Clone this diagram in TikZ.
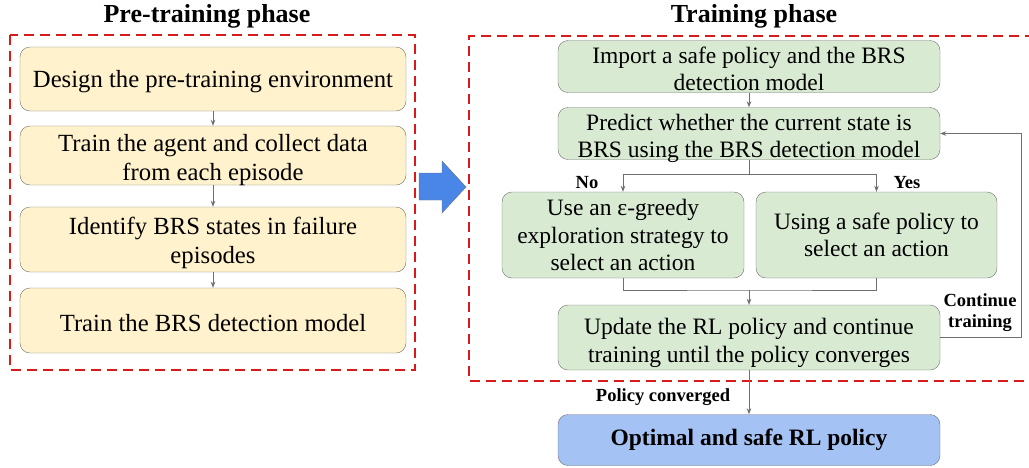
\documentclass[tikz,border=0pt]{standalone}
\usepackage{fontspec}
\setmainfont{Liberation Serif}
\usetikzlibrary{arrows.meta,positioning}
\definecolor{preyellow}{HTML}{FFF2CC}
\definecolor{traingreen}{HTML}{D9EAD3}
\definecolor{finalblue}{HTML}{A4C2F4}
\definecolor{arrowblue}{HTML}{4A86E8}
\definecolor{phasered}{HTML}{D91A1A}
\definecolor{linegray}{HTML}{6F6F6F}
% lowers the text of a box a little
\newcommand{\topstrut}[1]{\rule{0pt}{#1}}
\newcommand{\nodepth}[1]{\raisebox{0pt}[\height][0pt]{#1}}

\begin{document}
\begin{tikzpicture}[x=1pt,y=-1pt,
    prebox/.style={draw=linegray,fill=preyellow,rounded corners=10pt,align=center,
      inner sep=0pt,minimum width=386pt,font=\fontsize{24.7}{29}\selectfont},
    trainbox/.style={draw=linegray,fill=traingreen,rounded corners=10pt,align=center,
      inner sep=0pt,font=\fontsize{23.5}{27.5}\selectfont},
    phase/.style={draw=phasered,line width=2pt,dash pattern=on 10pt off 6pt},
    flow/.style={draw=linegray,line width=0.8pt,-{Stealth[length=6pt,width=4.5pt]}},
    tag/.style={font=\fontsize{18.5}{21}\selectfont\bfseries},
    title/.style={font=\fontsize{26}{30}\selectfont\bfseries}]
  \useasboundingbox (0,0) rectangle (1029,467);

  % pre-training phase
  \node[title] (pretitle) at (207,16) {Pre-training phase};
  \draw[phase] (10,35) rectangle (415,370);
  \node[prebox,minimum height=64pt] (design) at (213,79) {\topstrut{23pt}Design the pre-training environment};
  \node[prebox,minimum height=59pt] (collect) at (213,155.5) {\topstrut{21pt}Train the agent and collect data\\\nodepth{from each episode}};
  \node[prebox,minimum height=65pt] (identify) at (213,239.5) {\topstrut{25pt}Identify BRS states in failure\\episodes};
  \node[prebox,minimum height=65pt] (detect) at (213,320.5) {\topstrut{23pt}Train the BRS detection model};
  \draw[flow] (design) -- (collect);
  \draw[flow] (collect) -- (identify);
  \draw[flow] (identify) -- (detect);

  % big arrow between the phases
  \draw[linegray,fill=arrowblue] (419,173) -- (442,173) -- (442,161) -- (466,187)
    -- (442,213) -- (442,200) -- (419,200) -- cycle;

  % training phase
  \node[title] (traintitle) at (754,16) {Training phase};
  \draw[phase] (1035,36) -- (469,36) -- (469,381) -- (1035,381);
  \node[trainbox,minimum width=382pt,minimum height=52pt] (import) at (749,66.5) {\topstrut{21pt}Import a safe policy and the BRS\\detection model};
  \node[trainbox,minimum width=382pt,minimum height=52pt] (predict) at (749,133.5) {\topstrut{21pt}Predict whether the current state is\\\nodepth{BRS using the BRS detection model}};
  \node[trainbox,minimum width=242pt,minimum height=86pt] (explore) at (623,235) {Use an ε-greedy\\exploration strategy to\\select an action};
  \node[trainbox,minimum width=241pt,minimum height=86pt] (safe) at (876.5,235) {Using a safe policy to\\select an action};
  \node[trainbox,minimum width=382pt,minimum height=65pt] (update) at (749,337.5) {\topstrut{27pt}Update the RL policy and continue\\training until the policy converges};
  \node[draw=linegray,fill=finalblue,rounded corners=10pt,inner sep=0pt,minimum width=382pt,
    minimum height=51pt,font=\fontsize{23.5}{27}\selectfont\bfseries] (optimal) at (749,440) {Optimal and safe RL policy};

  \draw[flow] (import) -- (predict);
  \draw[draw=linegray,line width=0.8pt] (predict.south) -- ++(0,15) coordinate (split);
  \draw[flow] (split) -| (explore.north);
  \draw[flow] (split) -| (safe.north);
  \coordinate (join) at (749,290);
  \draw[draw=linegray,line width=0.8pt] (explore.south) |- (join) -| (safe.south);
  \draw[flow] (join) -- (update);
  \draw[flow] (update.east) -- (1021,337.5) |- (predict.east);
  \draw[flow] (update) -- (optimal);

  \node[tag] (nolabel) at (587,183) {No};
  \node[tag] (yeslabel) at (907,183) {Yes};
  \node[tag,align=center] (continue) at (980,313) {Continue\\training};
  \node[tag] (converged) at (663,397) {Policy converged};
\end{tikzpicture}
\end{document}
